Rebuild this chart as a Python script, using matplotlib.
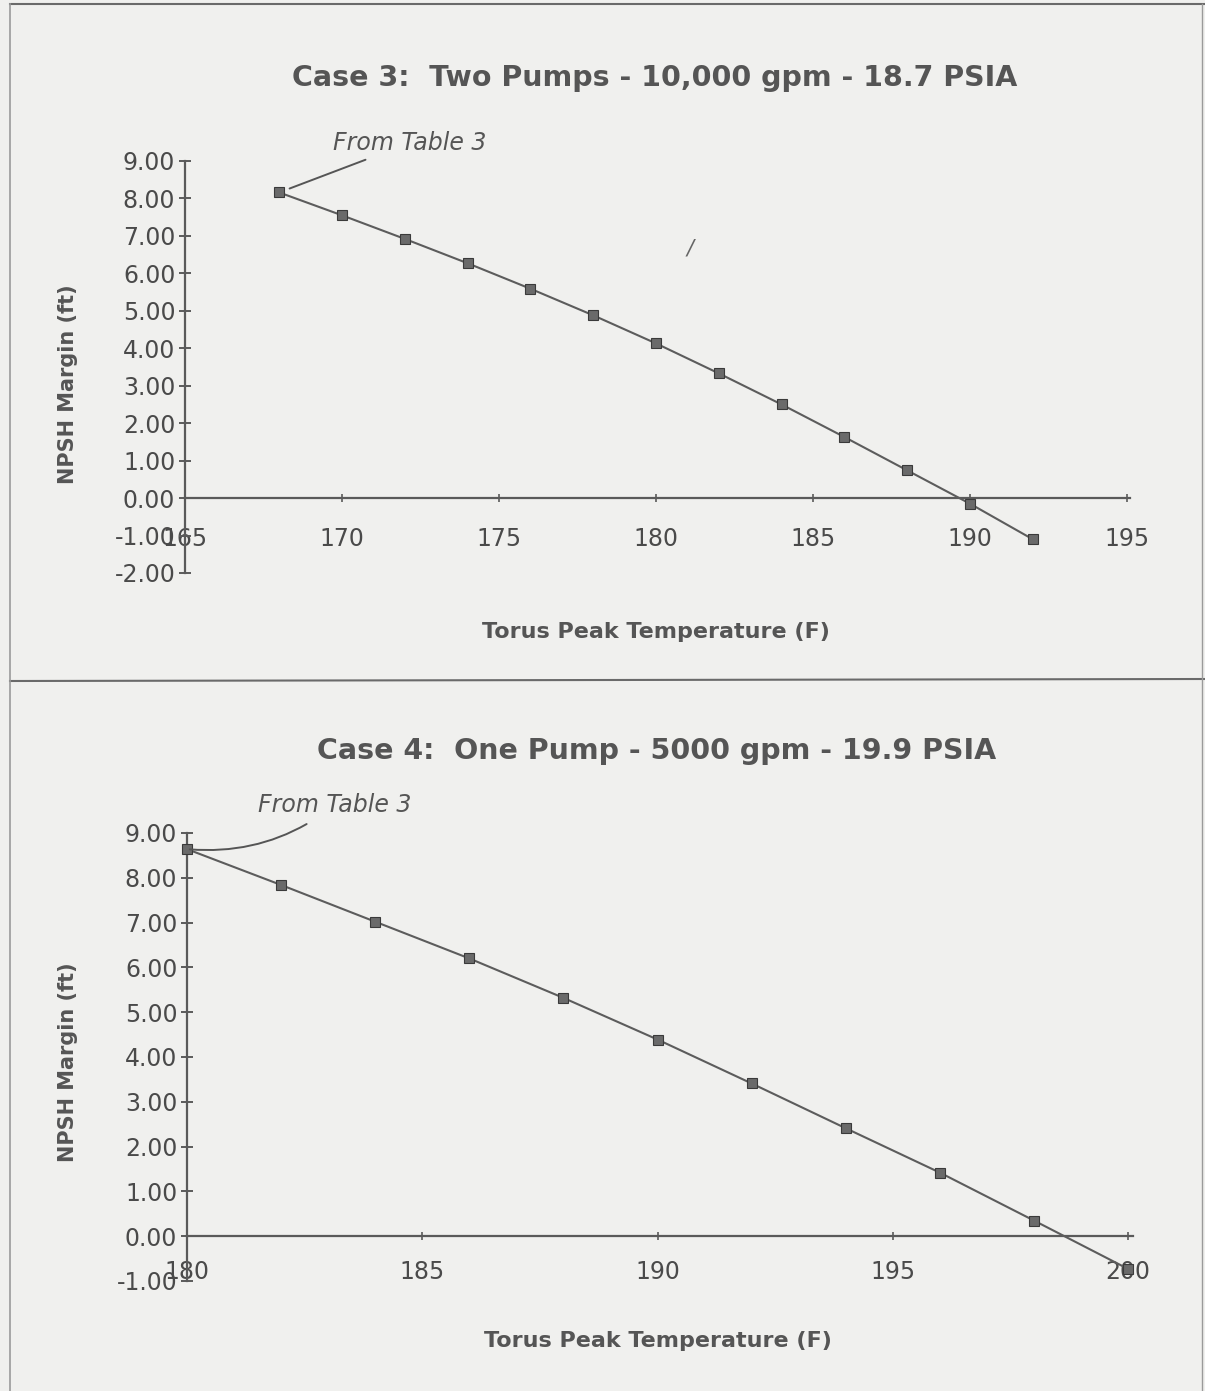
import matplotlib
matplotlib.use("Agg")
import matplotlib.pyplot as plt
from matplotlib.lines import Line2D

# ---- data ----
case3_title = "Case 3:  Two Pumps - 10,000 gpm - 18.7 PSIA"
case3_temp = [168, 170, 172, 174, 176, 178, 180, 182, 184, 186, 188, 190, 192]
case3_margin = [8.16, 7.55, 6.92, 6.27, 5.59, 4.88, 4.13, 3.33, 2.50, 1.63, 0.74, -0.15, -1.10]
case3_xticks = [165, 170, 175, 180, 185, 190, 195]
case3_yticks = [9, 8, 7, 6, 5, 4, 3, 2, 1, 0, -1, -2]

case4_title = "Case 4:  One Pump - 5000 gpm - 19.9 PSIA"
case4_temp = [180, 182, 184, 186, 188, 190, 192, 194, 196, 198, 200]
case4_margin = [8.64, 7.84, 7.02, 6.20, 5.32, 4.39, 3.41, 2.41, 1.42, 0.35, -0.73]
case4_xticks = [180, 185, 190, 195, 200]
case4_yticks = [9, 8, 7, 6, 5, 4, 3, 2, 1, 0, -1]

xlabel = "Torus Peak Temperature (F)"
ylabel = "NPSH Margin (ft)"
note = "From Table 3"

W, H = 1205, 1391
bg = "#f0f0ee"
ink = "#4a4a4a"
plt.rcParams['font.family'] = ['DejaVu Sans']

fig = plt.figure(figsize=(W / 100, H / 100), dpi=100, facecolor=bg)


def fx(px):
    return px / W


def fy(py):
    return 1 - py / H


def make_panel(rect, temps, margins, xticks, yticks, xlim, ylim, xpad):
    ax = fig.add_axes(rect)
    ax.set_facecolor(bg)
    ax.patch.set_alpha(0)
    ax.set_xlim(*xlim)
    ax.set_ylim(*ylim)
    for s in ['top', 'right']:
        ax.spines[s].set_visible(False)
    ax.spines['bottom'].set_position(('data', 0))
    ax.spines['left'].set_position(('data', xlim[0]))
    for s in ['bottom', 'left']:
        ax.spines[s].set_color("#5a5a5a")
        ax.spines[s].set_linewidth(1.6)
    ax.spines['bottom'].set_bounds(xlim[0], xlim[1] + 0.1)
    ax.set_xticks(xticks)
    ax.set_yticks(yticks)
    ax.set_yticklabels([f"{v:.2f}" for v in yticks])
    ax.tick_params(axis='y', direction='inout', length=8, width=1.4, color="#5a5a5a",
                   labelsize=17, labelcolor=ink, pad=3)
    ax.tick_params(axis='x', direction='inout', length=6, width=1.2, color="#5a5a5a",
                   labelsize=17, labelcolor=ink, pad=xpad)
    ax.plot(temps, margins, color="#5c5c5c", lw=1.5, marker='s', markersize=6.5,
            markerfacecolor="#6a6a6a", markeredgecolor="#3a3a3a", markeredgewidth=0.8,
            clip_on=False, zorder=3)
    return ax


# top panel
ax1 = make_panel([fx(185), fy(573), fx(1127) - fx(185), fy(161) - fy(573)],
                 case3_temp, case3_margin, case3_xticks, case3_yticks,
                 (165, 195), (-2, 9), 18)
# bottom panel
ax2 = make_panel([fx(187), fy(1281), fx(1128) - fx(187), fy(833) - fy(1281)],
                 case4_temp, case4_margin, case4_xticks, case4_yticks,
                 (180, 200), (-1, 9), 14)

# titles and axis labels
tcol = "#555555"
fig.text(fx(655), fy(78), case3_title, ha='center', va='center', fontsize=20.5,
         fontweight='bold', color=tcol)
fig.text(fx(657), fy(751), case4_title, ha='center', va='center', fontsize=20.5,
         fontweight='bold', color=tcol)
fig.text(fx(656), fy(632), xlabel, ha='center', va='center', fontsize=16,
         fontweight='bold', color=tcol)
fig.text(fx(658), fy(1341), xlabel, ha='center', va='center', fontsize=16,
         fontweight='bold', color=tcol)
fig.text(fx(68), fy(384), ylabel, ha='center', va='center', rotation=90, fontsize=15,
         fontweight='bold', color=tcol)
fig.text(fx(68), fy(1062), ylabel, ha='center', va='center', rotation=90, fontsize=15,
         fontweight='bold', color=tcol)

# handwritten notes
ax1.annotate(note, xy=(case3_temp[0], case3_margin[0]), xycoords='data',
             xytext=(fx(333), fy(143)), textcoords='figure fraction',
             fontsize=17, style='italic', color=tcol, ha='left', va='center',
             arrowprops=dict(arrowstyle='-', color=tcol, lw=1.4,
                             connectionstyle="arc3,rad=0.0", shrinkA=4, shrinkB=8))
ax2.annotate(note, xy=(case4_temp[0], case4_margin[0]), xycoords='data',
             xytext=(fx(258), fy(805)), textcoords='figure fraction',
             fontsize=17, style='italic', color=tcol, ha='left', va='center',
             arrowprops=dict(arrowstyle='-', color=tcol, lw=1.4,
                             connectionstyle="arc3,rad=-0.2", shrinkA=6, shrinkB=2))
fig.text(fx(690), fy(248), "/", fontsize=15, style='italic', color="#666666",
         ha='center', va='center')

# page frame lines
frame_color = "#6a6a6a"
fig.add_artist(Line2D([fx(10), fx(1205)], [fy(4), fy(4)], color=frame_color, lw=1.5))
fig.add_artist(Line2D([fx(10), fx(1205)], [fy(681), fy(679)], color=frame_color, lw=1.5))
fig.add_artist(Line2D([fx(10), fx(10)], [fy(4), fy(1391)], color="#9a9a9a", lw=1.2))
fig.add_artist(Line2D([fx(1202), fx(1202)], [fy(4), fy(1391)], color="#9a9a9a", lw=1.0))

fig.savefig("out.png", dpi=100, facecolor=bg)
